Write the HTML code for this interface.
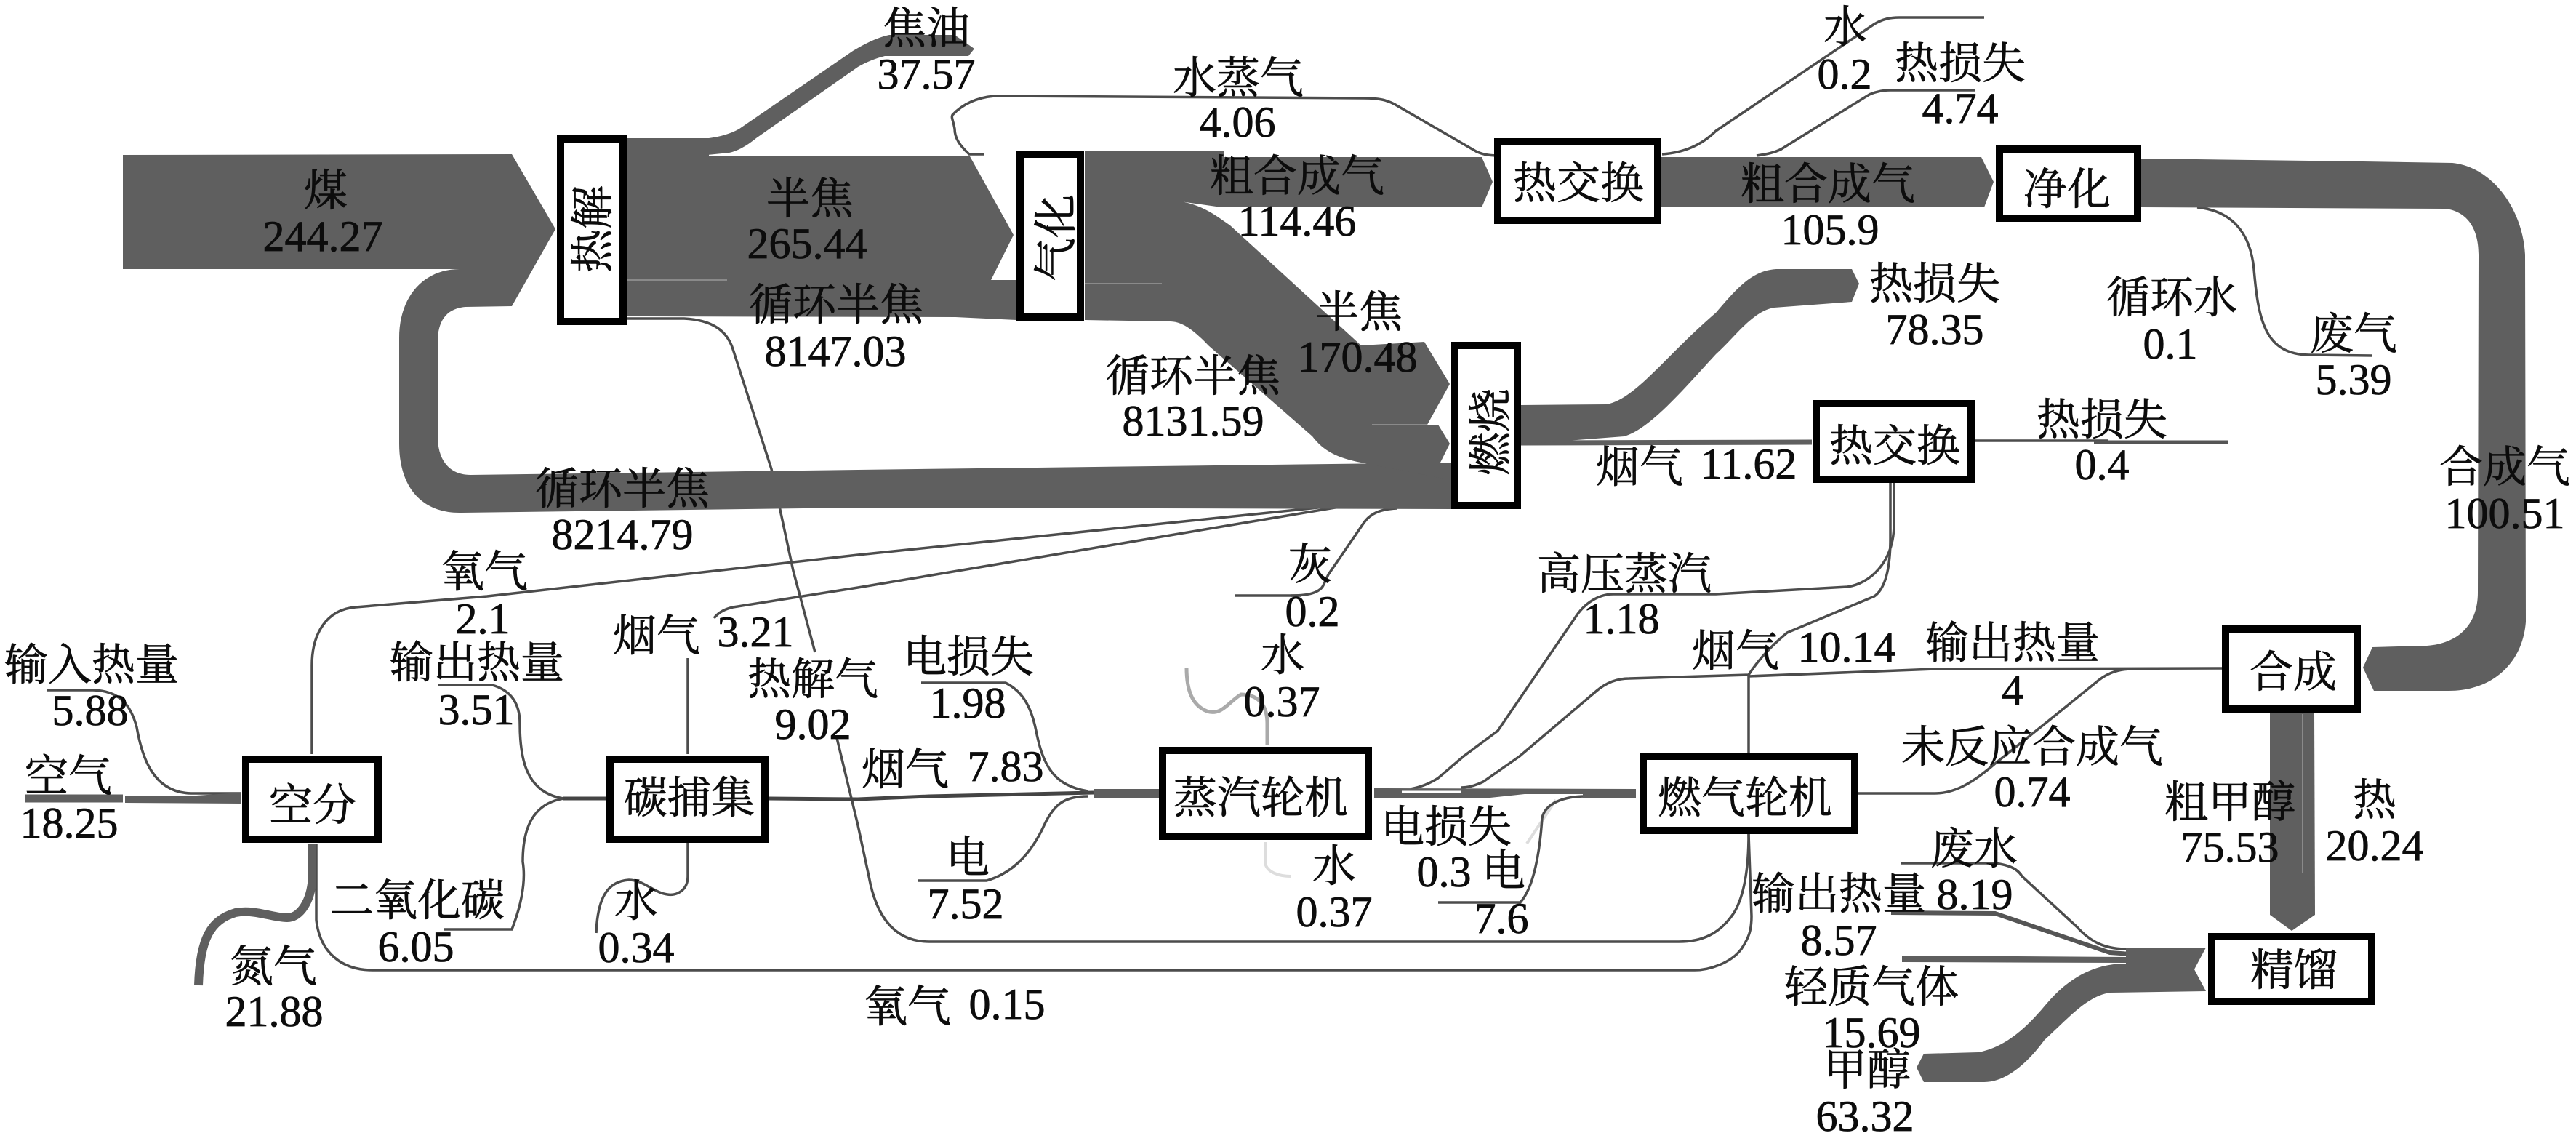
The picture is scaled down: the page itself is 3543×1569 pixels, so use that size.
<!DOCTYPE html>
<html><head><meta charset="utf-8"><style>
html,body{margin:0;padding:0;background:#fff}
svg{display:block}
text{font-family:"Liberation Serif","Noto Serif CJK SC",serif;font-size:60px;fill:#0c0c0c;stroke:#0c0c0c;stroke-width:.8;text-anchor:middle}
.t{fill:none;stroke:#4c4c4c;stroke-width:3.5}
.b{fill:#5f5f5f}
.n{fill:#fff;stroke:#000;stroke-width:10}
</style></head><body>
<svg xmlns="http://www.w3.org/2000/svg" width="3543" height="1569" viewBox="0 0 3543 1569">
<rect width="3543" height="1569" fill="#fff"/>
<!-- thin lines -->
<path class="t" d="M1353 212L1333 212C1320 200 1313 190 1313 177C1311 165 1308 162 1310 158C1325 142 1345 134 1368 132L1876 135C1895 135 1908 137 1921 145L2030 208C2040 213 2050 214 2064 214"/>
<path class="t" d="M2286 212C2315 210 2340 200 2360 180L2578 33C2590 26 2600 24 2612 24L2729 24"/>
<path class="t" d="M2416 214C2430 212 2440 210 2450 205L2571 130C2580 126 2590 124 2600 124L2717 124"/>
<path class="t" d="M3022 285C3070 290 3095 320 3100 370C3106 440 3115 488 3177 488L3263 489"/>
<path class="t" d="M862 438L941 438C980 440 1000 455 1008 480L1061 645L1091 785L1121 897M1151 1015L1180 1135L1195 1205C1205 1260 1230 1295 1278 1295L2309 1295C2340 1295 2365 1285 2385 1255C2400 1230 2405 1190 2405 1147" stroke-width="4"/>
<path class="t" d="M429 1037L429 915C429 870 450 838 489 835L670 820L1180 763L1842 695L1960 690"/>
<path class="t" d="M946 1037L946 905M982 850C990 840 1000 837 1008 835L1180 808L1842 697L1960 692"/>
<path class="t" d="M1921 699C1900 700 1885 705 1875 720L1827 790L1820 805C1815 815 1800 819 1775 819" />
<path class="t" d="M1699 819L1790 819" stroke-width="4.5"/>
<path class="t" d="M1940 1085C1955 1082 1965 1078 1978 1070L2013 1040L2060 1005L2166 850C2180 828 2200 817 2219 817L2360 817L2541 807C2570 803 2605 775 2605 720L2605 664"/>
<path class="t" d="M2010 1083C2020 1083 2030 1080 2040 1075L2090 1040L2196 950C2210 938 2225 933 2241 933L2405 928C2420 905 2440 885 2458 870L2578 820C2592 810 2600 785 2600 740L2600 664"/>
<path class="t" d="M2405 930L2661 920L3056 919" stroke-width="4.5"/>
<path class="t" d="M2405 930L2405 1035" stroke-width="4.5"/>
<path class="t" d="M2556 1091L2661 1091C2690 1091 2715 1075 2744 1050L2819 990L2887 935C2900 925 2915 920 2932 920"/>
<path class="t" d="M435 1160L435 1265C440 1310 470 1334 512 1334L2331 1334C2350 1334 2380 1325 2395 1305C2405 1290 2409 1280 2409 1260L2405 1147" stroke-width="4"/>
<path class="t" d="M64 949L128 949C165 950 180 970 188 1000C195 1040 210 1090 263 1091L331 1091"/>
<path class="t" d="M602 942L677 942C705 950 715 970 715 995C715 1040 722 1090 775 1098" stroke="#777"/>
<path class="t" d="M775 1098C735 1105 719 1135 719 1185C724 1215 715 1250 704 1278L610 1278"/>
<path d="M775 1098L834 1098M1057 1098L1180 1099L1278 1095L1504 1090" fill="none" stroke="#444" stroke-width="5"/>
<path class="t" d="M946 1159L946 1205C946 1225 930 1232 918 1230C900 1228 885 1210 865 1210C835 1212 822 1235 820 1283"/>
<path class="t" d="M1267 939L1383 939C1405 950 1418 970 1425 1005C1435 1055 1450 1080 1496 1088"/>
<path class="t" d="M1263 1211L1357 1211C1395 1200 1420 1170 1436 1135C1450 1105 1465 1095 1496 1095"/>
<path fill="none" stroke="#aaa" stroke-width="5" d="M1743 1025L1743 995C1743 975 1735 955 1707 955C1690 965 1680 985 1660 978C1640 970 1632 950 1632 918"/>
<path fill="none" stroke="#ddd" stroke-width="4" d="M1741 1158L1741 1190C1745 1200 1760 1205 1775 1205M2100 1160L2140 1100"/>
<path class="t" d="M1978 1241L2091 1241C2110 1220 2118 1170 2121 1125C2125 1105 2150 1095 2181 1095"/>
<path class="t" d="M2716 606L2900 606" /><path d="M2880 608L3064 608" stroke="#555" stroke-width="5"/>
<path d="M2092 609L2492 608" stroke="#5f5f5f" stroke-width="7"/>
<!-- small bands -->
<path d="M34 1098L169 1098" stroke="#5f5f5f" stroke-width="11"/>
<path class="b" d="M172 1094L270 1094L331 1090L331 1105L172 1104Z"/>
<path d="M429 1160L429 1215C425 1245 410 1262 395 1262C375 1262 350 1250 324 1255C290 1265 275 1290 273 1355" fill="none" stroke="#5f5f5f" stroke-width="12"/>
<path class="b" d="M1504 1085L1594 1085L1594 1098L1504 1098Z"/>
<path class="b" d="M1890 1084L2250 1085L2250 1098L2177 1098L2177 1092L2097 1092L2040 1098L1890 1098Z"/>
<path d="M1928 1089L2010 1089" stroke="#fff" stroke-width="3"/>
<path class="t" d="M2614 1187L2744 1187C2765 1190 2775 1195 2781 1205L2857 1275C2875 1295 2895 1305 2924 1305"/>
<path d="M2601 1255L2744 1256L2902 1310L2930 1312" fill="none" stroke="#555" stroke-width="6"/>
<path class="b" d="M2616 1314L2924 1316L2924 1324L2616 1323Z"/>
<!-- large bands -->
<path class="b" d="M169 213L704 212L764 315L704 421L640 422C615 424 602 440 602 470L602 600C602 635 620 653 647 653L1180 646L1996 636L1996 700L1180 698L632 705C580 705 549 670 549 610L549 465C549 405 585 370 632 370L169 370Z"/>
<path class="b" d="M975 190C990 188 1005 184 1017 177L1173 70C1190 60 1205 52 1223 48L1313 48L1340 67L1332 77L1217 77C1205 80 1192 85 1180 92L1040 190C1025 202 1015 207 1003 210L973 213Z"/>
<path class="b" d="M862 190L975 190L975 215L1334 215L1394 323L1363 385L1398 385L1398 440L1314 436L862 435Z"/>
<path class="b" d="M1492 207L1684 207L1684 216L2038 216L2053 250L2038 285L1680 285L1609 275C1650 278 1670 295 1692 310L1872 475L1959 470L1994 528L1963 584L1978 584L1994 610L1981 636L1996 636L1996 660L1872 636C1840 630 1820 620 1805 600L1662 475C1640 452 1625 442 1609 442L1492 440Z"/>
<path class="b" d="M2092 557L2210 556C2250 548 2290 490 2360 430C2390 395 2410 372 2443 370L2547 370L2557 390L2547 415L2440 423C2410 428 2385 465 2360 487C2320 530 2270 590 2234 600L2092 611Z"/>
<path class="b" d="M2285 216L2725 216L2742 250L2729 285L2285 285Z"/>
<path class="b" d="M2945 218L3250 222L3373 224C3430 230 3470 290 3473 350L3474 855C3470 910 3430 950 3368 950L3265 950L3250 918L3263 890L3338 888C3380 885 3408 860 3408 815L3409 350C3409 310 3390 290 3363 287L2945 285Z"/>
<path class="b" d="M3122 980L3183 980L3184 1258L3152 1280L3122 1258Z"/>
<path class="b" d="M2924 1303L3034 1303L3018 1333L3034 1363L2902 1365C2870 1370 2845 1400 2812 1430C2790 1460 2760 1488 2729 1488L2646 1488L2636 1468L2646 1449L2721 1447C2760 1440 2790 1410 2815 1380C2845 1345 2880 1325 2924 1325Z"/>
<path d="M862 385L1000 385M1492 390L1598 390M1887 584L1963 584" stroke="#8a8a8a" stroke-width="2"/>
<path d="M3167 982L3167 1200" stroke="#8a8a8a" stroke-width="2"/>
<!-- nodes -->
<rect class="n" x="771" y="191" width="86" height="251"/>
<rect class="n" x="1403" y="212" width="83" height="224"/>
<rect class="n" x="2001" y="475" width="86" height="220"/>
<rect class="n" x="2060" y="195" width="220" height="108"/>
<rect class="n" x="2750" y="205" width="190" height="95"/>
<rect class="n" x="2498" y="555" width="213" height="104"/>
<rect class="n" x="3061" y="865" width="181" height="110"/>
<rect class="n" x="3042" y="1288" width="220" height="89"/>
<rect class="n" x="338" y="1044" width="182" height="110"/>
<rect class="n" x="839" y="1044" width="213" height="110"/>
<rect class="n" x="1599" y="1032" width="283" height="118"/>
<rect class="n" x="2260" y="1040" width="291" height="102"/>
<!-- node labels -->
<text transform="translate(836 315) rotate(-90)">热解</text>
<text transform="translate(1473 327) rotate(-90)">气化</text>
<text transform="translate(2071 594) rotate(-90)">燃烧</text>
<text x="2171" y="273">热交换</text>
<text x="2843" y="281">净化</text>
<text x="2606" y="634">热交换</text>
<text x="3154" y="945">合成</text>
<text x="3155" y="1355">精馏</text>
<text x="430" y="1128">空分</text>
<text x="948" y="1118">碳捕集</text>
<text x="1734" y="1118">蒸汽轮机</text>
<text x="2400" y="1118">燃气轮机</text>
<!-- flow labels -->
<text x="448" y="283">煤</text><text x="444" y="345">244.27</text>
<text x="1114" y="294">半焦</text><text x="1110" y="355">265.44</text>
<text x="1150" y="440">循环半焦</text><text x="1149" y="503">8147.03</text>
<text x="856" y="693">循环半焦</text><text x="856" y="755">8214.79</text>
<text x="1274" y="60">焦油</text><text x="1274" y="122">37.57</text>
<text x="1703" y="128">水蒸气</text><text x="1702" y="188">4.06</text>
<text x="1784" y="263">粗合成气</text><text x="1784" y="324">114.46</text>
<text x="1869" y="450">半焦</text><text x="1867" y="511">170.48</text>
<text x="1641" y="538">循环半焦</text><text x="1641" y="599">8131.59</text>
<text x="2255" y="663">烟气</text><text x="2405" y="658">11.62</text>
<text x="2538" y="58">水</text><text x="2537" y="122">0.2</text>
<text x="2696" y="108">热损失</text><text x="2696" y="169">4.74</text>
<text x="2514" y="274">粗合成气</text><text x="2517" y="336">105.9</text>
<text x="2661" y="411">热损失</text><text x="2661" y="473">78.35</text>
<text x="2987" y="430">循环水</text><text x="2985" y="493">0.1</text>
<text x="3237" y="480">废气</text><text x="3237" y="542">5.39</text>
<text x="2891" y="598">热损失</text><text x="2891" y="659">0.4</text>
<text x="3445" y="663">合成气</text><text x="3445" y="726">100.51</text>
<text x="126" y="935">输入热量</text><text x="124" y="997">5.88</text>
<text x="94" y="1088">空气</text><text x="95" y="1152">18.25</text>
<text x="666" y="807">氧气</text><text x="664" y="871">2.1</text>
<text x="656" y="932">输出热量</text><text x="655" y="996">3.51</text>
<text x="903" y="895">烟气</text><text x="1039" y="889">3.21</text>
<text x="1118" y="955">热解气</text><text x="1118" y="1016">9.02</text>
<text x="574" y="1259">二氧化碳</text><text x="572" y="1322">6.05</text>
<text x="875" y="1260">水</text><text x="875" y="1323">0.34</text>
<text x="376" y="1350">氮气</text><text x="377" y="1411">21.88</text>
<text x="1802" y="797">灰</text><text x="1805" y="861">0.2</text>
<text x="2234" y="810">高压蒸汽</text><text x="2230" y="871">1.18</text>
<text x="1332" y="924">电损失</text><text x="1331" y="987">1.98</text>
<text x="1764" y="922">水</text><text x="1763" y="985">0.37</text>
<text x="1245" y="1079">烟气</text><text x="1383" y="1074">7.83</text>
<text x="1331" y="1200">电</text><text x="1328" y="1263">7.52</text>
<text x="1835" y="1212">水</text><text x="1835" y="1274">0.37</text>
<text x="1989" y="1158">电损失</text><text x="1986" y="1219">0.3</text>
<text x="2068" y="1218">电</text><text x="2065" y="1283">7.6</text>
<text x="1248" y="1405">氧气</text><text x="1385" y="1401">0.15</text>
<text x="2387" y="916">烟气</text><text x="2540" y="910">10.14</text>
<text x="2768" y="905">输出热量</text><text x="2768" y="969">4</text>
<text x="2795" y="1048">未反应合成气</text><text x="2795" y="1109">0.74</text>
<text x="3067" y="1124">粗甲醇</text><text x="3067" y="1185">75.53</text>
<text x="3266" y="1121">热</text><text x="3266" y="1183">20.24</text>
<text x="2715" y="1188">废水</text><text x="2716" y="1250">8.19</text>
<text x="2529" y="1250">输出热量</text><text x="2529" y="1313">8.57</text>
<text x="2574" y="1378">轻质气体</text><text x="2574" y="1440">15.69</text>
<text x="2568" y="1492">甲醇</text><text x="2565" y="1555">63.32</text>
</svg>
</body></html>
